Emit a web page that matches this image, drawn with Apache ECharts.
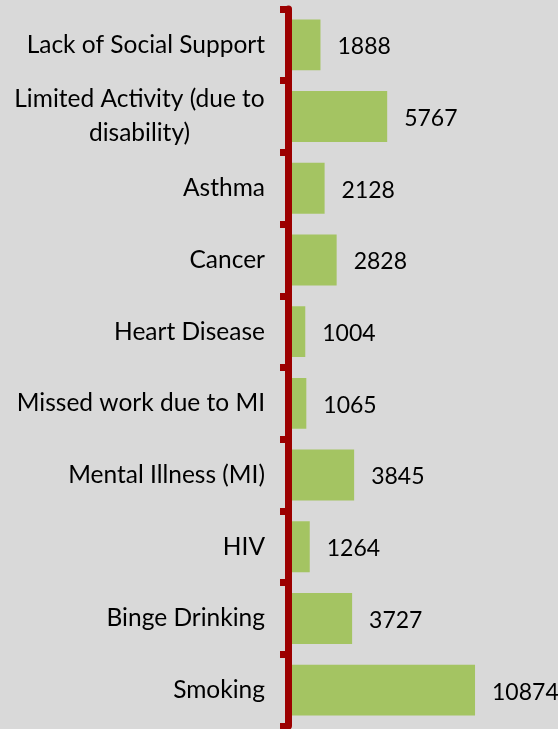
<!DOCTYPE html>
<html>
<head>
<meta charset="utf-8">
<script src="https://cdn.jsdelivr.net/npm/echarts@6/dist/echarts.min.js"></script>
<style>
html,body{margin:0;padding:0;background:#d9d9d9;}
#c{width:558px;height:729px;}
</style>
</head>
<body>
<div id="c"></div>
<script>
const categories = [
  "Lack of Social Support",
  "Limited Activity (due to\ndisability)",
  "Asthma",
  "Cancer",
  "Heart Disease",
  "Missed work due to MI",
  "Mental Illness (MI)",
  "HIV",
  "Binge Drinking",
  "Smoking"
];
const values = [1888, 5767, 2128, 2828, 1004, 1065, 3845, 1264, 3727, 10874];

const chart = echarts.init(document.getElementById('c'), null, {renderer: 'canvas'});
const FONT = 'Lato';
const CAT_SIZE = 24.5;
chart.setOption({
  backgroundColor: '#d9d9d9',
  animation: false,
  grid: {left: 288, top: 9, bottom: 3, width: 206.4, containLabel: false},
  xAxis: {
    type: 'value', min: 0, max: 12000, show: false,
    splitLine: {show: false}
  },
  yAxis: {
    type: 'category',
    data: categories,
    inverse: true,
    z: 5,
    axisLine: {show: true, lineStyle: {color: '#9c0000', width: 7}},
    axisTick: {show: true, length: 8, lineStyle: {color: '#9c0000', width: 7}},
    axisLabel: {
      margin: 23,
      color: '#000',
      fontFamily: FONT,
      fontSize: CAT_SIZE,
      lineHeight: 34,
      formatter: function (v) {
        if (v.indexOf('\n') >= 0) {
          return v.split('\n').map(s => '{c|' + s + '}').join('\n');
        }
        return v;
      },
      rich: {
        c: {width: 251, align: 'center', fontFamily: FONT, fontSize: CAT_SIZE, color: '#000', lineHeight: 34}
      }
    }
  },
  series: [{
    type: 'bar',
    data: values,
    barCategoryGap: '29%',
    itemStyle: {color: '#a4c462'},
    label: {
      show: true,
      position: 'right',
      distance: 17,
      offset: [0, 2],
      color: '#000',
      fontFamily: FONT,
      fontSize: 23
    }
  }]
});
</script>
</body>
</html>
